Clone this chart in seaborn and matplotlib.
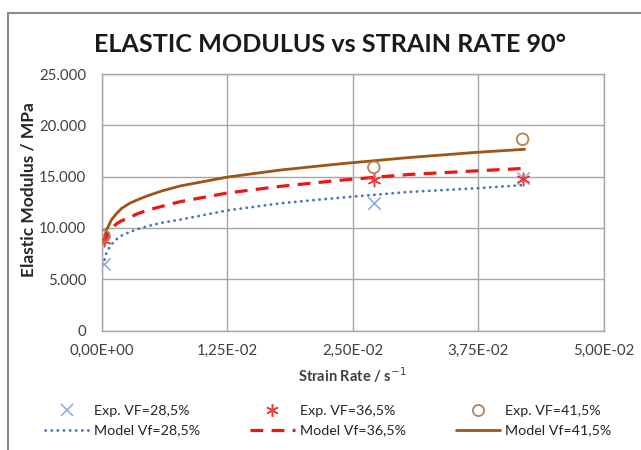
import matplotlib
matplotlib.use("Agg")
import matplotlib.pyplot as plt
import seaborn as sns
import pandas as pd
from matplotlib.lines import Line2D
from matplotlib.patches import Rectangle

# Experimental measurements (strain rate in 1/s, modulus in MPa)
exp_rate = [0.00025, 0.0271, 0.0419]
exp_vf285 = [6480, 12400, 14900]
exp_vf365 = [8820, 14700, 14750]
exp_vf415 = [9210, 15900, 18640]

# Model curves
model_rate = [0.0003, 0.0005, 0.0008, 0.001, 0.0015, 0.002, 0.0028, 0.0035,
              0.0045, 0.006, 0.0078, 0.0125, 0.0178, 0.0238, 0.0305,
              0.0371, 0.0421]
model_vf285 = [6900, 7600, 8100, 8400, 8900, 9250, 9600, 9850,
               10150, 10500, 10800, 11700, 12400, 12950, 13500,
               13850, 14180]
model_vf365 = [8400, 9100, 9700, 9950, 10400, 10700, 11000, 11350,
               11700, 12100, 12550, 13400, 14050, 14650, 15200,
               15550, 15800]
model_vf415 = [9000, 9800, 10400, 10800, 11400, 11900, 12400, 12700,
               13100, 13600, 14080, 14950, 15640, 16250, 16850,
               17350, 17660]

exp_labels = ["Exp. VF=28,5%", "Exp. VF=36,5%", "Exp. VF=41,5%"]
model_labels = ["Model Vf=28,5%", "Model Vf=36,5%", "Model Vf=41,5%"]

x_ticks = [0.0, 0.0125, 0.025, 0.0375, 0.05]
x_tick_labels = ["0,00E+00", "1,25E-02", "2,50E-02", "3,75E-02", "5,00E-02"]
y_ticks = [0, 5000, 10000, 15000, 20000, 25000]
y_tick_labels = ["0", "5.000", "10.000", "15.000", "20.000", "25.000"]

sns.set_theme(style="white")
plt.rcParams["font.family"] = ["Lato", "DejaVu Sans"]

GRID = "#A6A6A6"
TXT = "#404040"
c_blue_line = "#4A74BC"
c_blue_mark = "#8FB0DA"
c_red_line = "#F01414"
c_red_mark = "#E5403F"
c_brown_line = "#9E5416"
c_brown_mark = "#B5835A"

fig = plt.figure(figsize=(6.41, 4.50), dpi=100)
ax = fig.add_axes([101.5 / 641, 1 - 330.5 / 450, (604 - 101.5) / 641, (330.5 - 74) / 450])

model_df = pd.DataFrame({"rate": model_rate, "v285": model_vf285,
                         "v365": model_vf365, "v415": model_vf415})
exp_df = pd.DataFrame({"rate": exp_rate, "v285": exp_vf285,
                       "v365": exp_vf365, "v415": exp_vf415})

# model curves
sns.lineplot(data=model_df, x="rate", y="v285", ax=ax, color=c_blue_line,
             lw=2.0, linestyle=(0, (0.1, 2.1)), dash_capstyle="round",
             sort=False, estimator=None)
sns.lineplot(data=model_df, x="rate", y="v365", ax=ax, color=c_red_line,
             lw=2.3, linestyle=(0, (4, 2.6)), sort=False, estimator=None)
sns.lineplot(data=model_df, x="rate", y="v415", ax=ax, color=c_brown_line,
             lw=2.0, sort=False, estimator=None)

# experimental points
star = (6, 2, 0)
sns.scatterplot(data=exp_df, x="rate", y="v285", ax=ax, marker="x",
                s=80, color=c_blue_mark, linewidth=1.2, zorder=5)
sns.scatterplot(data=exp_df, x="rate", y="v365", ax=ax, marker=star,
                s=80, edgecolor=c_red_mark, facecolor=c_red_mark,
                linewidth=1.1, zorder=5)
sns.scatterplot(data=exp_df, x="rate", y="v415", ax=ax, marker="o",
                s=70, facecolor="none", edgecolor=c_brown_mark,
                linewidth=1.3, zorder=5)

ax.set_xlim(0, 0.05)
ax.set_ylim(0, 25000)
ax.set_xticks(x_ticks)
ax.set_xticklabels(x_tick_labels)
ax.set_yticks(y_ticks)
ax.set_yticklabels(y_tick_labels)
ax.grid(True, color=GRID, lw=1.0)
ax.set_axisbelow(True)
for sp in ax.spines.values():
    sp.set_color(GRID)
    sp.set_linewidth(1.0)
ax.tick_params(axis="both", which="major", direction="out", length=4,
               width=1.0, color=GRID, labelsize=10.8, labelcolor=TXT)
ax.tick_params(axis="y", pad=7)
ax.tick_params(axis="x", pad=6)

ax.set_xlabel("Strain Rate / s$^{-1}$", fontsize=10.5, fontweight="bold",
              color=TXT, labelpad=5)
ax.set_ylabel("Elastic Modulus / MPa", fontsize=12.5, fontweight="bold",
              color="#262626")
ax.yaxis.set_label_coords(-0.13, 0.55)

fig.text(330 / 641, 1 - 45 / 450, "ELASTIC MODULUS vs STRAIN RATE 90°",
         ha="center", va="center", fontsize=18.1, fontweight="bold",
         color="#1A1A1A")

# legend: experiments in the first row, models in the second
h_exp = [
    Line2D([], [], ls="none", marker="x", ms=9, mew=1.2, color=c_blue_mark),
    Line2D([], [], ls="none", marker=star, ms=9, mew=1.1, color=c_red_mark),
    Line2D([], [], ls="none", marker="o", ms=8, mew=1.3, mfc="none",
           mec=c_brown_mark),
]
h_mod = [
    Line2D([], [], color=c_blue_line, lw=2.0, ls=(0, (0.1, 2.1)),
           dash_capstyle="round"),
    Line2D([], [], color=c_red_line, lw=2.3, ls=(0, (4, 2.6))),
    Line2D([], [], color=c_brown_line, lw=2.0),
]
handles, labels = [], []
for he, hm, le, lm in zip(h_exp, h_mod, exp_labels, model_labels):
    handles += [he, hm]
    labels += [le, lm]
leg = fig.legend(handles, labels, ncol=3, loc="center",
                 bbox_to_anchor=(328 / 641, 1 - 421 / 450), frameon=False,
                 fontsize=10.3, handlelength=3.1, handletextpad=0.35,
                 columnspacing=3.5, labelspacing=0.5)
for t in leg.get_texts():
    t.set_color("#262626")

# outer chart frame
fig.patches.append(Rectangle((8 / 641, -0.1), 1.2, 1.1 - 13 / 450,
                             transform=fig.transFigure, fill=False,
                             edgecolor="#8C8C8C", lw=1.5, zorder=0))

fig.savefig("out.png", dpi=100, facecolor="white")
